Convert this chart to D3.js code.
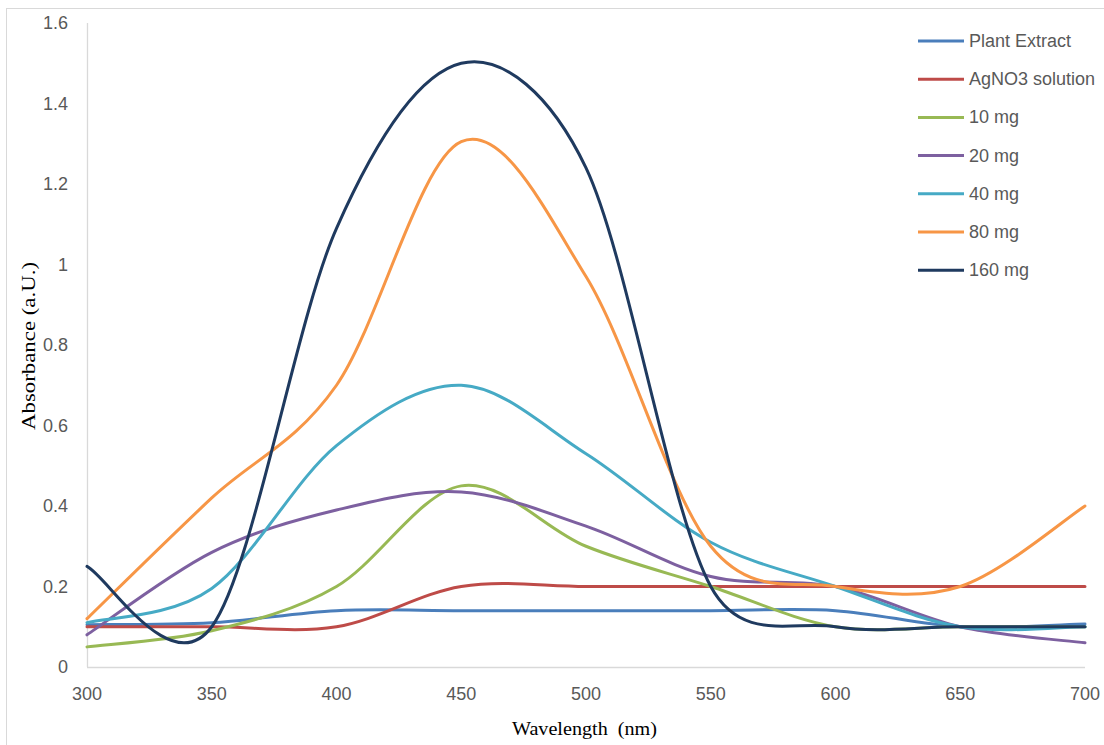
<!DOCTYPE html>
<html>
<head>
<meta charset="utf-8">
<script src="https://cdn.jsdelivr.net/npm/d3@7"></script>
<style>
  body { margin: 0; background: #fff; }
  svg { display: block; }
</style>
</head>
<body>
<svg id="chart"></svg>
<script>
// wavelengths (nm) sampled every 50 nm
var wavelengths = [300, 350, 400, 450, 500, 550, 600, 650, 700];

var plantExtract = [0.105, 0.11, 0.14, 0.14, 0.14, 0.14, 0.14, 0.10, 0.107];
var agno3       = [0.10, 0.10, 0.10, 0.20, 0.20, 0.20, 0.20, 0.20, 0.20];
var mg10        = [0.05, 0.09, 0.20, 0.45, 0.30, 0.20, 0.10, 0.10, 0.10];
var mg20        = [0.08, 0.285, 0.39, 0.435, 0.35, 0.225, 0.20, 0.10, 0.06];
var mg40        = [0.11, 0.195, 0.55, 0.70, 0.53, 0.31, 0.20, 0.10, 0.10];
var mg80        = [0.12, 0.42, 0.70, 1.305, 0.97, 0.30, 0.20, 0.20, 0.40];
var mg160       = [0.25, 0.10, 1.09, 1.50, 1.24, 0.20, 0.10, 0.10, 0.10];

var seriesNames  = ["Plant Extract", "AgNO3 solution", "10 mg", "20 mg", "40 mg", "80 mg", "160 mg"];
var seriesValues = [plantExtract, agno3, mg10, mg20, mg40, mg80, mg160];
var seriesColors = ["#4a7ebb", "#be4b48", "#98b954", "#7d60a0", "#46aac5", "#f79646", "#1f3a5f"];

var xTicks = [300, 350, 400, 450, 500, 550, 600, 650, 700];
var yTicks = [0, 0.2, 0.4, 0.6, 0.8, 1, 1.2, 1.4, 1.6];

var W = 1104, H = 745;
var svg = d3.select("#chart").attr("width", W).attr("height", H);

// outer chart border
svg.append("rect")
    .attr("x", 6.5).attr("y", 8.5)
    .attr("width", W + 10).attr("height", H + 10)
    .attr("fill", "none").attr("stroke", "#d9d9d9");

var x = d3.scaleLinear().domain([300, 700]).range([87, 1085]);
var y = d3.scaleLinear().domain([0, 1.6]).range([667, 23]);

var tickColor = "#595959";
var sans = "'Liberation Sans', Arial, sans-serif";
var serif = "'Liberation Serif', 'Times New Roman', serif";

// axes lines
svg.append("line")
    .attr("x1", x(300)).attr("x2", x(700))
    .attr("y1", y(0) + 0.5).attr("y2", y(0) + 0.5)
    .attr("stroke", "#d9d9d9").attr("stroke-width", 1.3);
svg.append("line")
    .attr("x1", x(300) + 0.5).attr("x2", x(300) + 0.5)
    .attr("y1", y(0)).attr("y2", y(1.6))
    .attr("stroke", "#d9d9d9").attr("stroke-width", 1.3);

// tick labels
svg.selectAll(".ytick")
  .data(yTicks)
  .enter().append("text")
    .attr("class", "ytick")
    .attr("x", 68)
    .attr("y", function(d) { return y(d) + 6; })
    .attr("text-anchor", "end")
    .attr("font-family", sans).attr("font-size", 18)
    .attr("fill", tickColor)
    .text(function(d) { return d3.format("~g")(d); });

svg.selectAll(".xtick")
  .data(xTicks)
  .enter().append("text")
    .attr("class", "xtick")
    .attr("x", function(d) { return x(d); })
    .attr("y", 700)
    .attr("text-anchor", "middle")
    .attr("font-family", sans).attr("font-size", 18)
    .attr("fill", tickColor)
    .text(function(d) { return d; });

// axis titles
svg.append("text")
    .attr("x", 512).attr("y", 735)
    .attr("font-family", serif).attr("font-size", 19)
    .attr("textLength", 145).attr("lengthAdjust", "spacingAndGlyphs")
    .attr("fill", "#000")
    .text("Wavelength\u00a0 (nm)");

svg.append("text")
    .attr("transform", "translate(35,430) rotate(-90)")
    .attr("font-family", serif).attr("font-size", 19)
    .attr("textLength", 168).attr("lengthAdjust", "spacingAndGlyphs")
    .attr("fill", "#000")
    .text("Absorbance (a.U.)");

// Excel-like smoothed line: bezier control points at 1/6 of the neighbour
// chord, shortened when they would reach past half the segment
function smoothPath(values) {
  var pts = values.map(function(v, i) { return [x(wavelengths[i]), y(v)]; });
  var dist = function(a, b) { return Math.hypot(a[0] - b[0], a[1] - b[1]); };
  var p = d3.path();
  p.moveTo(pts[0][0], pts[0][1]);
  for (var i = 0; i < pts.length - 1; i++) {
    var p0 = pts[i - 1] || pts[i], p1 = pts[i], p2 = pts[i + 1], p3 = pts[i + 2] || pts[i + 1];
    var d02 = dist(p0, p2), d12 = dist(p1, p2), d13 = dist(p1, p3);
    var f1 = d02 / 6 < d12 / 2 ? 1 / 6 : d12 / (2 * d02);
    var f2 = d13 / 6 < d12 / 2 ? 1 / 6 : d12 / (2 * d13);
    p.bezierCurveTo(
      p1[0] + f1 * (p2[0] - p0[0]), p1[1] + f1 * (p2[1] - p0[1]),
      p2[0] - f2 * (p3[0] - p1[0]), p2[1] - f2 * (p3[1] - p1[1]),
      p2[0], p2[1]);
  }
  return p.toString();
}

svg.selectAll(".series")
  .data(seriesValues)
  .enter().append("path")
    .attr("class", "series")
    .attr("d", smoothPath)
    .attr("fill", "none")
    .attr("stroke", function(d, i) { return seriesColors[i]; })
    .attr("stroke-width", 3)
    .attr("stroke-linecap", "round");

// legend
var legend = svg.selectAll(".legend")
  .data(seriesNames)
  .enter().append("g")
    .attr("class", "legend")
    .attr("transform", function(d, i) { return "translate(918," + (41 + i * 38.2) + ")"; });

legend.append("line")
    .attr("x1", 0).attr("x2", 46)
    .attr("stroke", function(d, i) { return seriesColors[i]; })
    .attr("stroke-width", 3);

legend.append("text")
    .attr("x", 51).attr("y", 6)
    .attr("font-family", sans).attr("font-size", 18)
    .attr("fill", tickColor)
    .text(function(d) { return d; });
</script>
</body>
</html>
